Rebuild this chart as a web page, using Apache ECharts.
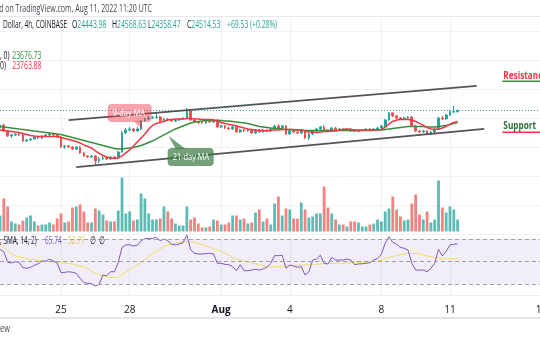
<!DOCTYPE html>
<html>
<head>
<meta charset="utf-8">
<title>BTC/USD 4h</title>
<script src="https://cdn.jsdelivr.net/npm/echarts@6/dist/echarts.min.js"></script>
<style>
  html, body { margin: 0; padding: 0; background: #ffffff; }
  #chart { width: 540px; height: 340px; }
</style>
</head>
<body>
<div id="chart"></div>
<script>
// Bitcoin / U.S. Dollar, 4h candles from COINBASE, 22 Jul 08:00 UTC to 11 Aug 08:00 UTC 2022
const opens = [
  23310, 23517, 23103, 22758, 22827, 22896, 22827, 22413, 22482, 22551,
  22689, 22620, 22758, 22827, 22896, 22827, 22689, 21999, 22068, 21999,
  21861, 21999, 21585, 21378, 21309, 21378, 21033, 21171, 21240, 21171,
  21309, 21240, 21654, 22965, 23172, 23241, 23103, 23241, 23793, 23931,
  24000, 24034, 24069, 23793, 23931, 23862, 23793, 23862, 23931, 24000,
  24552, 23862, 23724, 23690, 23655, 23793, 23724, 23862, 23379, 23448,
  23310, 23241, 23379, 23034, 23172, 23103, 23172, 22965, 23172, 23034,
  23172, 23103, 23241, 23448, 23310, 23448, 22896, 23103, 23034, 22965,
  23103, 22620, 22896, 23103, 23241, 23379, 23172, 23103, 23310, 23172,
  23241, 23172, 23241, 23103, 23068, 23137, 23172, 23241, 23172, 23241,
  23310, 23448, 23862, 24345, 24138, 24000, 23931, 24000, 24069, 23448,
  23103, 23034, 23103, 22896, 23034, 23241, 24000, 23931, 24207, 24414,
  24443.98
];
const highs = [
  23655, 23586, 23172, 22896, 22965, 22965, 22965, 22551, 22620, 22758,
  22758, 22827, 22896, 23034, 22965, 22896, 22758, 22137, 22137, 22068,
  22068, 22068, 21654, 21447, 21447, 21447, 21309, 21378, 21309, 21378,
  21378, 21723, 23103, 23310, 23379, 23310, 23379, 23862, 24000, 24138,
  24138, 24345, 24138, 24000, 24000, 23931, 23931, 24000, 24069, 24690,
  24621, 23931, 23793, 23793, 23862, 23862, 23931, 23931, 23517, 23517,
  23379, 23448, 23448, 23241, 23241, 23241, 23241, 23241, 23241, 23241,
  23241, 23310, 23517, 23586, 23517, 23517, 23172, 23172, 23103, 23172,
  23172, 22965, 23172, 23310, 23448, 23517, 23241, 23379, 23379, 23310,
  23310, 23310, 23310, 23172, 23172, 23241, 23310, 23310, 23310, 23379,
  23517, 23931, 24414, 24414, 24207, 24069, 24069, 24138, 24138, 23517,
  23172, 23172, 23172, 23103, 23310, 24069, 24138, 24276, 24552, 24828,
  24568.63
];
const lows = [
  23241, 23034, 22689, 22620, 22758, 22758, 22344, 22344, 22413, 22482,
  22551, 22551, 22689, 22758, 22758, 22620, 21930, 21861, 21930, 21792,
  21792, 21516, 21309, 21240, 21240, 20757, 20895, 21102, 21102, 21102,
  21171, 21171, 21585, 22896, 23103, 23034, 23034, 23172, 23724, 23862,
  23931, 23931, 23724, 23724, 23793, 23724, 23724, 23793, 23862, 23931,
  23793, 23655, 23586, 23586, 23586, 23655, 23655, 23310, 23310, 23241,
  23172, 23172, 22965, 22965, 23034, 23034, 22896, 22896, 22965, 22965,
  23034, 23034, 23172, 23241, 23241, 22827, 22827, 22965, 22896, 22896,
  22551, 22482, 22827, 23034, 23172, 23103, 23034, 23034, 23103, 23103,
  23103, 23103, 23034, 23034, 23034, 23103, 23103, 23103, 23103, 23172,
  23241, 23379, 23793, 24069, 23931, 23862, 23862, 23931, 23379, 23034,
  22965, 22965, 22827, 22827, 22965, 23172, 23862, 23862, 24138, 24345,
  24358.47
];
const closes = [
  23517, 23103, 22758, 22827, 22896, 22827, 22413, 22482, 22551, 22689,
  22620, 22758, 22827, 22896, 22827, 22689, 21999, 22068, 21999, 21861,
  21999, 21585, 21378, 21309, 21378, 21033, 21171, 21240, 21171, 21309,
  21240, 21654, 22965, 23172, 23241, 23103, 23241, 23793, 23931, 24000,
  24034, 24069, 23793, 23931, 23862, 23793, 23862, 23931, 24000, 24552,
  23862, 23724, 23690, 23655, 23793, 23724, 23862, 23379, 23448, 23310,
  23241, 23379, 23034, 23172, 23103, 23172, 22965, 23172, 23034, 23172,
  23103, 23241, 23448, 23310, 23448, 22896, 23103, 23034, 22965, 23103,
  22620, 22896, 23103, 23241, 23379, 23172, 23103, 23310, 23172, 23241,
  23172, 23241, 23103, 23068, 23137, 23172, 23241, 23172, 23241, 23310,
  23448, 23862, 24345, 24138, 24000, 23931, 24000, 24069, 23448, 23103,
  23034, 23103, 22896, 23034, 23241, 24000, 23931, 24207, 24414, 24445.00,
  24514.53
];
const volumes = [
  16, 33, 25, 10, 8, 7, 11, 14, 16, 10,
  6, 7, 7, 9, 7, 13, 18, 9, 10, 24,
  25, 27, 20, 9, 9, 23, 21, 17, 11, 10,
  10, 21, 54, 18, 20, 11, 12, 38, 33, 18,
  12, 12, 13, 25, 20, 13, 8, 6, 6, 25,
  12, 14, 8, 4, 4, 5, 12, 11, 7, 7,
  9, 16, 16, 12, 13, 8, 9, 19, 22, 10,
  13, 7, 28, 35, 16, 23, 22, 13, 13, 29,
  22, 14, 15, 18, 18, 45, 24, 18, 12, 7,
  7, 5, 10, 10, 9, 5, 5, 7, 8, 12,
  10, 20, 23, 35, 22, 15, 11, 12, 28, 37,
  17, 12, 20, 9, 12, 51, 24, 19, 25, 22,
  12
];
// 9-period moving average (red)
const ma9 = [
  23172, 23138, 23103, 23069, 23034, 23000, 22931, 22862, 22793, 22758,
  22724, 22724, 22724, 22724, 22724, 22724, 22655, 22586, 22517, 22448,
  22379, 22275, 22137, 22034, 21930, 21723, 21551, 21413, 21309, 21240,
  21206, 21240, 21378, 21585, 21792, 22068, 22344, 22620, 22896, 23241,
  23483, 23621, 23690, 23759, 23862, 23897, 23931, 23931, 23931, 23966,
  23966, 23931, 23931, 23897, 23897, 23897, 23862, 23793, 23690, 23621,
  23552, 23517, 23448, 23379, 23310, 23241, 23207, 23172, 23138, 23138,
  23103, 23138, 23172, 23172, 23207, 23207, 23207, 23207, 23172, 23172,
  23103, 23034, 23034, 23000, 23034, 23069, 23069, 23103, 23103, 23172,
  23207, 23241, 23207, 23172, 23172, 23172, 23172, 23172, 23172, 23172,
  23207, 23345, 23586, 23759, 23862, 23897, 23897, 23897, 23862, 23759,
  23621, 23483, 23345, 23241, 23207, 23241, 23310, 23414, 23552, 23690,
  23763.88
];
// 21-period moving average (green)
const ma21 = [
  23414, 23379, 23345, 23310, 23276, 23241, 23207, 23172, 23138, 23103,
  23069, 23034, 23000, 22965, 22931, 22896, 22862, 22793, 22724, 22655,
  22586, 22517, 22448, 22379, 22310, 22241, 22172, 22103, 22034, 21965,
  21896, 21861, 21861, 21896, 21930, 21965, 22034, 22103, 22206, 22310,
  22413, 22551, 22689, 22827, 22965, 23103, 23241, 23345, 23448, 23552,
  23655, 23724, 23759, 23793, 23828, 23828, 23828, 23828, 23828, 23793,
  23793, 23759, 23724, 23690, 23655, 23621, 23552, 23483, 23414, 23379,
  23345, 23310, 23276, 23276, 23241, 23207, 23207, 23172, 23172, 23172,
  23138, 23138, 23138, 23138, 23138, 23138, 23138, 23138, 23138, 23138,
  23138, 23138, 23138, 23138, 23138, 23138, 23138, 23138, 23138, 23172,
  23172, 23207, 23241, 23276, 23310, 23345, 23379, 23414, 23414, 23414,
  23414, 23414, 23379, 23379, 23379, 23414, 23448, 23483, 23552, 23621,
  23676.73
];
// RSI (14, close) and its 14-period SMA
const rsi = [
  60.8, 58.7, 49.3, 48.7, 49.8, 49.3, 44.5, 44.0, 44.8, 46.6,
  48.0, 50.4, 50.4, 52.0, 50.4, 48.7, 40.1, 40.4, 40.9, 40.4,
  39.5, 35.1, 31.2, 30.6, 30.3, 28.2, 29.7, 38.0, 37.4, 40.9,
  40.9, 48.9, 62.6, 64.7, 64.9, 63.8, 64.4, 68.5, 70.3, 70.6,
  70.6, 71.5, 68.5, 70.0, 68.5, 65.3, 64.7, 65.6, 66.7, 73.6,
  60.5, 57.3, 56.7, 56.7, 57.0, 57.3, 56.7, 48.4, 48.4, 47.5,
  47.2, 45.4, 41.8, 47.2, 41.8, 41.8, 42.4, 43.1, 42.4, 43.4,
  44.8, 48.4, 55.2, 55.2, 55.5, 44.0, 46.9, 46.0, 44.8, 45.4,
  38.0, 40.7, 51.3, 52.2, 55.5, 48.4, 47.8, 53.7, 51.3, 51.3,
  51.3, 52.2, 51.3, 47.2, 47.8, 48.0, 48.4, 49.0, 51.3, 52.7,
  56.4, 66.2, 72.0, 67.0, 65.3, 62.6, 61.7, 60.2, 48.4, 42.4,
  42.4, 42.4, 40.9, 44.0, 48.4, 60.8, 54.9, 59.1, 64.7, 65.3,
  65.74
];
const rsiSma = [
  64.7, 62.5, 59.5, 56.8, 54.9, 54.2, 53.5, 52.8, 52.0, 51.5,
  51.0, 50.6, 50.2, 49.8, 49.5, 49.2, 48.9, 48.6, 48.3, 47.8,
  46.8, 46.0, 45.3, 43.5, 41.5, 39.5, 38.2, 37.3, 36.5, 35.9,
  35.6, 36.0, 38.0, 40.5, 42.5, 44.8, 47.0, 49.0, 51.8, 54.5,
  57.0, 59.0, 61.2, 63.3, 64.5, 65.6, 66.4, 67.0, 67.5, 67.6,
  67.5, 67.0, 66.0, 65.0, 63.6, 62.5, 61.4, 60.2, 58.7, 57.3,
  55.8, 53.3, 52.2, 51.3, 50.5, 49.6, 48.8, 48.0, 47.2, 46.4,
  45.4, 44.9, 45.2, 45.5, 45.7, 46.0, 46.2, 46.4, 46.6, 46.8,
  47.0, 47.2, 47.4, 47.6, 47.8, 48.0, 48.1, 48.2, 48.3, 48.5,
  48.6, 48.7, 48.8, 48.9, 49.1, 49.3, 49.6, 49.8, 50.1, 50.5,
  51.0, 52.2, 53.7, 54.6, 55.3, 56.0, 56.7, 57.1, 57.3, 57.2,
  56.9, 55.8, 54.9, 54.2, 53.5, 52.9, 52.4, 52.2, 52.3, 52.5,
  52.71
];
// time-scale tick labels, keyed by "MM-DD HH" (UTC)
const dayTicks = {
  '07-25 00': '25', '07-28 00': '28', '08-01 00': 'Aug', '08-04 00': '4',
  '08-08 00': '8', '08-11 00': '11', '08-15 00': '15'
};
// drawn channel: [time, price] end points
const upperChannel = [['07-25 08', 23855], ['08-12 04', 26208]];
const lowerChannel = [['07-25 16', 20612], ['08-12 12', 23248]];
// text notes: anchor time and price
const nineDayNote = { at: '07-28 00', price: 24345, text: '9-day MA' };
const twentyOneNote = { at: '07-30 16', price: 21309, text: '21-day MA' };
const resistanceNote = { at: '08-13 08', price: 26898, text: 'Resistance' };
const supportNote = { at: '08-13 08', price: 23448, text: 'Support' };

// 4h time slots, including empty space to the right of the last bar
const START = Date.UTC(2022, 6, 22, 8);
const STEP = 4 * 3600 * 1000;
const SLOTS = 143;
const pad = n => String(n).padStart(2, '0');
const categories = [];
for (let k = 0; k < SLOTS; k++) {
  const d = new Date(START + k * STEP);
  categories.push(pad(d.getUTCMonth() + 1) + '-' + pad(d.getUTCDate()) + ' ' + pad(d.getUTCHours()));
}
const idx = name => categories.indexOf(name);

const FONT = '"Open Sans", "DejaVu Sans", sans-serif';
const UP = '#26a69a', DOWN = '#ef5350';
const UP_VOL = 'rgba(38,166,154,0.75)', DOWN_VOL = 'rgba(239,83,80,0.72)';
const GRID_LINE = '#f0f2f6';

const candles = opens.map((o, k) => [o, closes[k], lows[k], highs[k]]);
const volBars = volumes.map((v, k) => ({
  value: v,
  itemStyle: { color: closes[k] >= opens[k] ? UP_VOL : DOWN_VOL }
}));
const isTick = i => dayTicks[categories[i]] !== undefined;
const last = closes.length - 1;
const lastClose = closes[last];

const CHART_W = 541.5;
const option = {
  animation: false,
  backgroundColor: '#ffffff',
  grid: [
    { left: 0, top: 16.5, width: CHART_W, height: 217.4, outerBoundsMode: 'none', containLabel: false },
    { left: 0, top: 176.5, width: CHART_W, height: 55, outerBoundsMode: 'none', containLabel: false },
    { left: 0, top: 232.25, width: CHART_W, height: 63, outerBoundsMode: 'none', containLabel: false }
  ],
  xAxis: [0, 1, 2].map(g => ({
    type: 'category',
    gridIndex: g,
    data: categories,
    boundaryGap: false,
    axisLine: { show: g === 2, lineStyle: { color: '#eceef2', width: 1 } },
    axisTick: { show: false },
    axisLabel: g === 2 ? {
      show: true,
      interval: i => isTick(i),
      margin: 10,
      color: '#131722',
      fontSize: 10,
      fontFamily: FONT,
      formatter: v => dayTicks[v] === 'Aug' ? '{b|Aug}' : (dayTicks[v] || ''),
      rich: { b: { fontWeight: 'bold', fontSize: 10, color: '#131722', fontFamily: FONT } }
    } : { show: false },
    splitLine: { show: g !== 1, interval: i => isTick(i), lineStyle: { color: GRID_LINE, width: 1 } }
  })),
  yAxis: [
    {
      gridIndex: 0, type: 'value', min: 16000, max: 31000, interval: 2000,
      axisLine: { show: false }, axisTick: { show: false }, axisLabel: { show: false },
      splitLine: { lineStyle: { color: GRID_LINE, width: 1 } }
    },
    { gridIndex: 1, type: 'value', min: 0, max: 55, show: false, splitLine: { show: false } },
    { gridIndex: 2, type: 'value', min: 20, max: 76, show: false, splitLine: { show: false } }
  ],
  series: [
    {
      name: 'Volume', type: 'bar', xAxisIndex: 1, yAxisIndex: 1,
      data: volBars, barWidth: 2.8, z: 1, silent: true
    },
    {
      name: 'BTCUSD', type: 'candlestick', xAxisIndex: 0, yAxisIndex: 0,
      data: candles, barWidth: 2.2, z: 2, silent: true,
      itemStyle: { color: UP, color0: DOWN, borderColor: UP, borderColor0: DOWN, borderWidth: 1 },
      markLine: {
        silent: true, symbol: ['none', 'none'], label: { show: false },
        data: [
          { yAxis: lastClose, lineStyle: { type: [1, 2], color: UP, width: 1 } },
          [
            { coord: [idx(upperChannel[0][0]), upperChannel[0][1]], lineStyle: { color: '#50555a', width: 1.8, type: 'solid' } },
            { coord: [idx(upperChannel[1][0]), upperChannel[1][1]] }
          ],
          [
            { coord: [idx(lowerChannel[0][0]), lowerChannel[0][1]], lineStyle: { color: '#50555a', width: 1.8, type: 'solid' } },
            { coord: [idx(lowerChannel[1][0]), lowerChannel[1][1]] }
          ]
        ]
      }
    },
    {
      name: 'MA 21', type: 'line', xAxisIndex: 0, yAxisIndex: 0, data: ma21,
      showSymbol: false, z: 3, silent: true,
      lineStyle: { color: '#388e3c', width: 1.5 }
    },
    {
      name: 'MA 9', type: 'line', xAxisIndex: 0, yAxisIndex: 0, data: ma9,
      showSymbol: false, z: 4, silent: true,
      lineStyle: { color: '#f23645', width: 1.5 }
    },
    {
      name: 'RSI', type: 'line', xAxisIndex: 2, yAxisIndex: 2, data: rsi,
      showSymbol: false, z: 4, silent: true,
      lineStyle: { color: '#7e57c2', width: 1 },
      markArea: {
        silent: true,
        itemStyle: { color: 'rgba(126,87,194,0.1)' },
        data: [[{ yAxis: 30 }, { yAxis: 70 }]]
      },
      markLine: {
        silent: true, symbol: ['none', 'none'], label: { show: false },
        lineStyle: { color: '#9da0a8', type: [4, 3], width: 1 },
        data: [{ yAxis: 70 }, { yAxis: 50 }, { yAxis: 30 }]
      }
    },
    {
      name: 'RSI-based MA', type: 'line', xAxisIndex: 2, yAxisIndex: 2, data: rsiSma,
      showSymbol: false, z: 3, silent: true,
      lineStyle: { color: '#f2dc62', width: 1 }
    }
  ]
};

const chart = echarts.init(document.getElementById('chart'), null, { renderer: 'canvas', width: 540, height: 340 });
chart.setOption(option);

const toPx = (cat, price) => chart.convertToPixel({ seriesIndex: 1 }, [idx(cat), price]);

function txt(x, y, text, o) {
  o = o || {};
  return {
    type: 'text', x: x, y: y, scaleX: o.sx || 0.64, z: 100, silent: true,
    style: {
      text: text, fill: o.color || '#131722', fontSize: o.size || 10.5, fontFamily: FONT,
      fontWeight: o.weight || 'normal', align: o.align || 'left', verticalAlign: 'middle',
      rich: o.rich
    }
  };
}
const fmt = v => v.toFixed(2);
const change = closes[last] - closes[last - 1];
const pct = change / closes[last - 1] * 100;
const valRich = {
  k: { fill: '#131722', fontSize: 11, fontFamily: FONT },
  v: { fill: UP, fontSize: 11, fontFamily: FONT }
};

function note(n, w, h, fill, tail) {
  const p = toPx(n.at, n.price);
  const cx = p[0], cy = p[1];
  const g = [];
  g.push({
    type: 'polygon', z: 95, silent: true,
    shape: { points: tail.map(t => [cx + t[0], cy + t[1]]) },
    style: { fill: fill }
  });
  g.push({
    type: 'rect', z: 96, silent: true,
    shape: { x: cx - w / 2, y: cy - h / 2, width: w, height: h, r: 4 },
    style: { fill: fill }
  });
  g.push(txt(cx - w / 2 + 5, cy, n.text, { color: '#ffffff', size: 9.5, sx: 0.78 }));
  return g;
}

const rP = toPx(resistanceNote.at, resistanceNote.price);
const sP = toPx(supportNote.at, supportNote.price);

const graphic = [
  // header strip
  txt(152, 9, 'Published on TradingView.com, Aug 11, 2022 11:20 UTC', { align: 'right', size: 10, color: '#434651', sx: 0.70 }),
  { type: 'rect', z: 99, silent: true, shape: { x: 0, y: 16, width: 540, height: 1 }, style: { fill: '#e6e8ee' } },
  txt(3, 25, 'Dollar, 4h, COINBASE', { size: 10.5, sx: 0.62 }),
  txt(72, 25, '{k|O}{v|' + fmt(opens[last]) + '}', { rich: valRich, sx: 0.62 }),
  txt(112, 25, '{k|H}{v|' + fmt(highs[last]) + '}', { rich: valRich, sx: 0.62 }),
  txt(148, 25, '{k|L}{v|' + fmt(lows[last]) + '}', { rich: valRich, sx: 0.62 }),
  txt(187, 25, '{k|C}{v|' + fmt(closes[last]) + '}', { rich: valRich, sx: 0.62 }),
  txt(227, 25, '{v|+' + fmt(change) + ' (+' + pct.toFixed(2) + '%)}', { rich: valRich, sx: 0.62 }),
  // moving-average legend
  txt(0, 56, ', 0)', { size: 11, sx: 0.62 }),
  txt(12.3, 56, fmt(ma21[last]), { size: 11, sx: 0.62, color: '#388e3c' }),
  txt(0, 66, '0)', { size: 11, sx: 0.62 }),
  txt(12.3, 66, fmt(ma9[last]), { size: 11, sx: 0.62, color: '#f23645' }),
  // RSI legend
  txt(0, 241, ', SMA, 14, 2)', { size: 10.5, sx: 0.62 }),
  txt(45, 241, fmt(rsi[last]), { size: 10.5, sx: 0.62, color: '#7e57c2' }),
  txt(68, 241, fmt(rsiSma[last]), { size: 10.5, sx: 0.62, color: '#e3cc3c' }),
  txt(90, 241, '\u2205', { size: 10.5, sx: 0.62 }),
  txt(99, 241, '\u2205', { size: 10.5, sx: 0.62 }),
  // resistance / support tags
  txt(rP[0], rP[1], resistanceNote.text, { size: 10.5, weight: 'bold', color: '#f23645', sx: 0.78 }),
  { type: 'rect', z: 99, silent: true, shape: { x: rP[0] - 1, y: rP[1] + 4.5, width: 40, height: 1.6 }, style: { fill: '#388e3c' } },
  txt(sP[0], sP[1], supportNote.text, { size: 10.5, weight: 'bold', color: '#2e6b32', sx: 0.78 }),
  { type: 'rect', z: 99, silent: true, shape: { x: sP[0] - 1, y: sP[1] + 5.5, width: 40, height: 1.6 }, style: { fill: '#f23645' } },
  // time-scale bottom border and footer
  { type: 'rect', z: 99, silent: true, shape: { x: 0, y: 317, width: 540, height: 2 }, style: { fill: '#e3e5ea' } },
  txt(0, 329, 'ew', { size: 10.5, sx: 0.7, color: '#434651' })
]
  .concat(note(nineDayNote, 44, 18, 'rgba(242,54,69,0.45)', [[4, 8], [12, 8], [13, 17]]))
  .concat(note(twentyOneNote, 46, 18, 'rgba(56,120,62,0.7)', [[-15, -8], [-5, -8], [-22, -21]]));

chart.setOption({ graphic: graphic });
</script>
</body>
</html>
